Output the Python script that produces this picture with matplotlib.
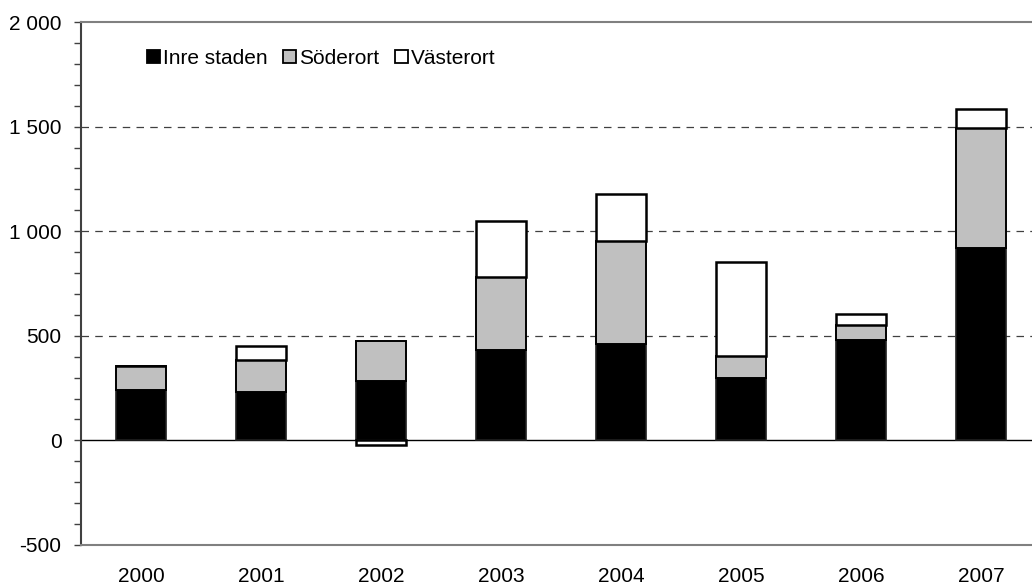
import matplotlib
matplotlib.use("Agg")
import matplotlib.pyplot as plt
from matplotlib.ticker import MultipleLocator, FixedLocator
import numpy as np

years = ["2000", "2001", "2002", "2003", "2004", "2005", "2006", "2007"]
inre_staden = [239, 231, 283, 430, 462, 298, 478, 919]
soderort = [115, 155, 190, 352, 493, 107, 73, 576]
vasterort = [3, 63, -22, 268, 224, 447, 51, 91]
series_names = ["Inre staden", "Söderort", "Västerort"]
y_ticks = [-500, 0, 500, 1000, 1500, 2000]
y_labels = ["-500", "0", "500", "1 000", "1 500", "2 000"]

plt.rcParams['font.family'] = ['Liberation Sans', 'DejaVu Sans']

fig = plt.figure(figsize=(10.32, 5.85), dpi=100)
ax = fig.add_axes([81/1032, 40/585, 960/1032, 523/585])

x = np.arange(len(years))
w = 0.42
inre = np.array(inre_staden, float)
sod = np.array(soderort, float)
vas = np.array(vasterort, float)

ax.bar(x, inre, w, color='black', edgecolor='#202020', linewidth=1.2, zorder=3, label=series_names[0])
ax.bar(x, sod, w, bottom=inre, color='#c0c0c0', edgecolor='black', linewidth=1.4, zorder=3, label=series_names[1])
vbottom = np.where(vas >= 0, inre + sod, 0)
ax.bar(x, vas, w, bottom=vbottom, color='white', edgecolor='black', linewidth=1.8, zorder=3, label=series_names[2])

ax.set_xlim(-0.5, len(years) - 0.5)
ax.set_ylim(-500, 2000)
ax.yaxis.set_major_locator(FixedLocator(y_ticks))
ax.set_yticklabels(y_labels, fontsize=15)
ax.yaxis.set_minor_locator(MultipleLocator(100))
ax.tick_params(axis='y', which='both', direction='out', length=5, width=1, color='#404040', pad=9)
ax.set_xticks(x)
ax.set_xticklabels(years, fontsize=15)
ax.tick_params(axis='x', length=0, pad=16)

for v in [500, 1000, 1500]:
    ax.axhline(v, color='#404040', linestyle=(0, (6, 5)), linewidth=0.9, zorder=1)
ax.axhline(0, color='black', linewidth=1.0, zorder=2)

ax.spines['right'].set_visible(False)
ax.spines['top'].set_color('#808080')
ax.spines['top'].set_linewidth(1.5)
ax.spines['bottom'].set_color('#808080')
ax.spines['bottom'].set_linewidth(1.5)
ax.spines['left'].set_color('#404040')
ax.spines['left'].set_linewidth(1.5)

leg = ax.legend(loc='upper left', bbox_to_anchor=(147/1032, 1 - 49/585), bbox_transform=fig.transFigure,
                ncol=3, frameon=False, fontsize=15, handlelength=0.62, handleheight=0.62,
                handletextpad=0.15, columnspacing=0.75, borderpad=0, borderaxespad=0)
for h in leg.legend_handles:
    h.set_linewidth(1.3)
    h.set_edgecolor('black')

fig.savefig("out.png", dpi=100)
